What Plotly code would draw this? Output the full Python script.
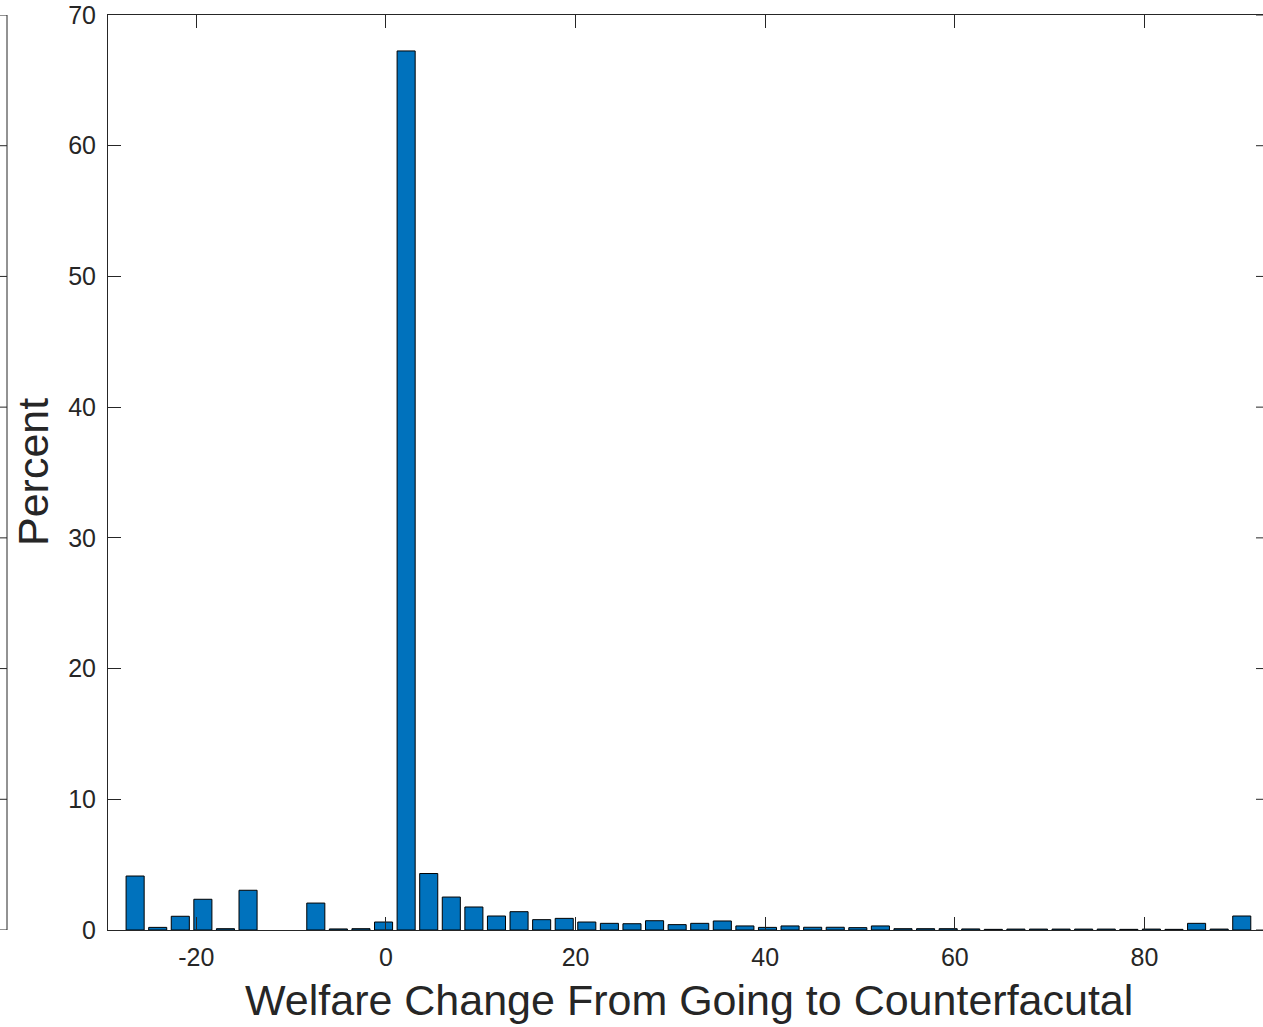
import plotly.graph_objects as go

# Histogram of welfare changes: equal-width bins, share of observations per bin
bin_start = -27.65   # left edge of the first bin
bin_width = 2.382    # width of every bin
percent = [
    4.13, 0.20, 1.05, 2.35, 0.10, 3.04, 0.00, 0.00, 2.06, 0.08,
    0.10, 0.61, 67.25, 4.32, 2.52, 1.76, 1.07, 1.40, 0.79, 0.89,
    0.61, 0.51, 0.48, 0.71, 0.41, 0.51, 0.69, 0.31, 0.20, 0.31,
    0.21, 0.21, 0.18, 0.31, 0.10, 0.10, 0.10, 0.08, 0.05, 0.07,
    0.07, 0.07, 0.07, 0.07, 0.05, 0.07, 0.05, 0.51, 0.07, 1.07,
]
x_ticks = [-20, 0, 20, 40, 60, 80]
y_ticks = [0, 10, 20, 30, 40, 50, 60, 70]
x_title = "Welfare Change From Going to Counterfacutal"
y_title = "Percent"

AX = "#262626"
FONT = "Liberation Sans, Arial, Helvetica, sans-serif"

W, H = 1263, 1027
L, R, T, B = 108, 0, 15, 97
pw = W - L - R
ph = H - T - B

# empty bins get no outline so nothing is drawn for them
edge_widths = [1 if p > 0 else 0 for p in percent]

fig = go.Figure(
    go.Bar(
        x0=bin_start + bin_width / 2,
        dx=bin_width,
        y=percent,
        marker=dict(color="#0072BD", line=dict(color="#000000", width=edge_widths)),
        hoverinfo="x+y",
    )
)

fig.update_layout(
    width=W,
    height=H,
    margin=dict(l=L, r=R, t=T, b=B, pad=0),
    paper_bgcolor="white",
    plot_bgcolor="white",
    bargap=0.2,
    showlegend=False,
    font=dict(family=FONT, color=AX, size=26),
)

fig.update_xaxes(
    range=[-29.32, 92.5],
    tickvals=x_ticks,
    ticktext=[str(v) for v in x_ticks],
    ticks="inside",
    ticklen=13,
    tickwidth=1,
    tickcolor=AX,
    showline=True,
    linecolor=AX,
    linewidth=1,
    mirror="ticks",
    showgrid=False,
    zeroline=False,
    ticklabelstandoff=5,
    tickfont=dict(size=25, color=AX),
)

fig.update_yaxes(
    range=[0, 70],
    tickvals=y_ticks,
    ticktext=[str(v) for v in y_ticks],
    ticks="inside",
    ticklen=13,
    tickwidth=1,
    tickcolor=AX,
    showline=True,
    linecolor=AX,
    linewidth=1,
    mirror=False,
    showgrid=False,
    zeroline=False,
    ticklabelstandoff=6,
    tickfont=dict(size=25, color=AX),
)

shapes = []
# short ticks on the right-hand edge of the axes box
for v in y_ticks:
    shapes.append(dict(type="line", xref="paper", yref="y",
                       x0=1 - 7 / pw, x1=1, y0=v, y1=v,
                       line=dict(color=AX, width=1)))
# right edge of the neighbouring panel on the left, with its inward ticks
edge_x = (7 - L) / pw
shapes.append(dict(type="line", xref="paper", yref="y",
                   x0=edge_x, x1=edge_x, y0=0, y1=70,
                   line=dict(color=AX, width=1)))
for v in y_ticks:
    shapes.append(dict(type="line", xref="paper", yref="y",
                       x0=(0 - L) / pw, x1=edge_x, y0=v, y1=v,
                       line=dict(color=AX, width=1)))
fig.update_layout(shapes=shapes)

fig.add_annotation(
    text=x_title, xref="paper", yref="paper",
    x=(688.5 - L) / pw, y=-(1000 - (T + ph)) / ph,
    xanchor="center", yanchor="middle", showarrow=False,
    font=dict(size=43, color=AX, family=FONT),
)
fig.add_annotation(
    text=y_title, xref="paper", yref="paper",
    x=(33 - L) / pw, y=(H - B - 472) / ph,
    xanchor="center", yanchor="middle", showarrow=False, textangle=-90,
    font=dict(size=43, color=AX, family=FONT),
)

fig.write_html("out.html")
